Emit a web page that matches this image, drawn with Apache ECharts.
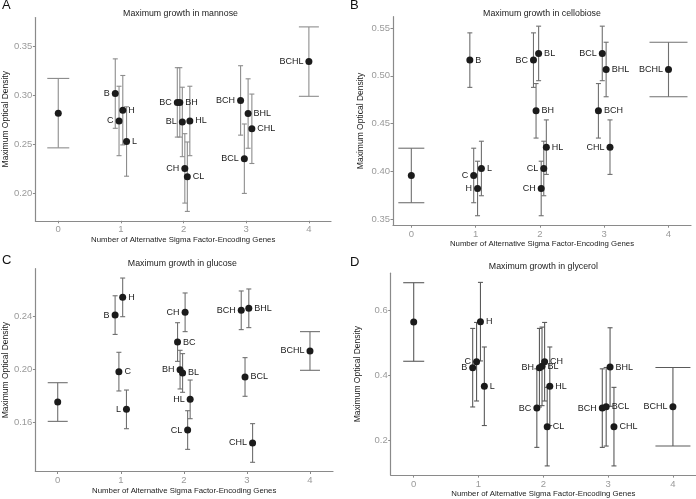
<!DOCTYPE html>
<html><head><meta charset="utf-8">
<script src="https://cdn.jsdelivr.net/npm/echarts@6/dist/echarts.min.js"></script>
<style>html,body{margin:0;padding:0;background:#fff}#c{width:696px;height:499px}</style>
</head><body><div id="c"></div>
<script>
// ---------- data ----------
const strains   = ['', 'B','C','H','L','BC','BH','BL','CH','CL','HL','BCH','BCL','BHL','CHL','BCHL'];
const geneCount = [0, 1,1,1,1, 2,2,2,2,2,2, 3,3,3,3, 4];
const xOffset   = [0, -0.09,-0.03,0.03,0.09, -0.1,-0.06,-0.02,0.02,0.06,0.1, -0.09,-0.03,0.03,0.09, 0];

const mannoseOD    = [0.282, 0.302,0.274,0.285,0.253, 0.293,0.293,0.273,0.2255,0.217,0.274, 0.295,0.2354,0.2816,0.266, 0.3347];
const mannoseErr   = 0.0355;
const cellobioseOD = [0.3958, 0.5164,0.3958,0.3822,0.4031, 0.5164,0.4634,0.5234,0.3822,0.4031,0.4254, 0.4634,0.5234,0.5066,0.4254, 0.5066];
const cellobioseErr= 0.0285;
const glucoseOD    = [0.1755, 0.2407,0.1983,0.254,0.17, 0.2205,0.1998,0.1973,0.2428,0.1545,0.1775, 0.2443,0.1943,0.2458,0.1448, 0.2138];
const glucoseErr   = 0.0145;
const glycerolOD   = [0.5653, 0.4245,0.4429,0.5663,0.3673, 0.3,0.4245,0.4286,0.4429,0.2429,0.3673, 0.3,0.3041,0.4265,0.2429, 0.3041];
const glycerolErr  = 0.121;

const titles = ['Maximum growth in mannose','Maximum growth in cellobiose','Maximum growth in glucose','Maximum growth in glycerol'];
const letters = ['A','B','C','D'];
const xTicks = [0,1,2,3,4];
const yTicksA = [0.20,0.25,0.30,0.35];
const yTicksB = [0.35,0.40,0.45,0.50,0.55];
const yTicksC = [0.16,0.20,0.24];
const yTicksD = [0.2,0.4,0.6];
const xName = 'Number of Alternative Sigma Factor-Encoding Genes';
const yName = 'Maximum Optical Density';

// ---------- layout / style ----------
const panels = [
  {od: mannoseOD, err: mannoseErr, yt: yTicksA, dec: 2, grid:{left:30, top:17.6, width:301, height:203.2}, xr:[-0.365,4.353], yr:[0.1719,0.3797], cap0:11, cap4:10, ec:'#8d8d8d', yGap:20,
   left:['B','C','BC','BL','CH','BCH','BCL','BCHL'], titleTop:9, letter:[2,-1]},
  {od: cellobioseOD, err: cellobioseErr, yt: yTicksB, dec: 2, grid:{left:393, top:16.7, width:298, height:208.5}, xr:[-0.285,4.35], yr:[0.3438,0.5618], cap0:13, cap4:19, ec:'#707070', yGap:28,
   left:['C','H','BC','CL','CH','BCL','CHL','BCHL'], titleTop:9, letter:[350,-1]},
  {od: glucoseOD, err: glucoseErr, yt: yTicksC, dec: 2, grid:{left:31.7, top:268.7, width:301.3, height:202.8}, xr:[-0.354,4.365], yr:[0.1234,0.2755], cap0:10, cap4:10, ec:'#707070', yGap:22,
   left:['B','L','CH','BH','HL','CL','BCH','CHL','BCHL'], titleTop:259, letter:[2,254]},
  {od: glycerolOD, err: glycerolErr, yt: yTicksD, dec: 1, grid:{left:390.7, top:273.2, width:305.3, height:203.2}, xr:[-0.355,4.356], yr:[0.0936,0.7156], cap0:10.5, cap4:17.5, ec:'#5a5a5a', yGap:29,
   left:['B','C','BH','BC','BCH','BCHL'], titleTop:262, letter:[350,256]}
];

const FONT = '"Liberation Sans", Arial, sans-serif';
const option = {animation:false, backgroundColor:'#fff', textStyle:{fontFamily:FONT},
  title:[], grid:[], xAxis:[], yAxis:[], series:[]};

panels.forEach((p,i)=>{
  option.grid.push(Object.assign({containLabel:false}, p.grid));
  option.title.push({text:titles[i], left:p.grid.left + p.grid.width/2, top:p.titleTop, textAlign:'center', padding:0,
    textStyle:{fontSize:8.8, fontWeight:'normal', color:'#222', fontFamily:FONT}});
  option.title.push({text:letters[i], left:p.letter[0], top:p.letter[1], padding:0,
    textStyle:{fontSize:13, fontWeight:'normal', color:'#111', fontFamily:FONT}});
  option.xAxis.push({type:'value', gridIndex:i, min:p.xr[0], max:p.xr[1], name:xName, nameLocation:'middle', nameGap:14,
    nameTextStyle:{fontSize:7.8, color:'#222', fontFamily:FONT},
    axisLine:{show:true, onZero:false, lineStyle:{color:'#8a8a8a', width:1.2}},
    axisTick:{show:true, length:2.5, customValues:xTicks, lineStyle:{color:'#8a8a8a'}},
    axisLabel:{customValues:xTicks, fontSize:9.5, color:'#9a9a9a', margin:4, fontFamily:FONT},
    splitLine:{show:false}});
  option.yAxis.push({type:'value', gridIndex:i, min:p.yr[0], max:p.yr[1], name:yName, nameLocation:'middle', nameGap:p.yGap,
    nameTextStyle:{fontSize:8.5, color:'#222', fontFamily:FONT},
    axisLine:{show:true, onZero:false, lineStyle:{color:'#8a8a8a', width:1.2}},
    axisTick:{show:true, length:2.5, customValues:p.yt, lineStyle:{color:'#8a8a8a'}},
    axisLabel:{customValues:p.yt, fontSize:9.5, color:'#9a9a9a', margin:3, fontFamily:FONT,
      formatter:v=>v.toFixed(p.dec)},
    splitLine:{show:false}});
  const pts = strains.map((s,k)=>[geneCount[k]+xOffset[k], p.od[k], p.err, geneCount[k], s]);
  option.series.push({type:'custom', xAxisIndex:i, yAxisIndex:i, data:pts, silent:true, z:1,
    renderItem:(params, api)=>{
      const x = api.value(0), y = api.value(1), e = api.value(2), g = api.value(3);
      const top = api.coord([x, y+e]), bot = api.coord([x, y-e]);
      const cw = g===0 ? p.cap0 : (g===4 ? p.cap4 : 2.5);
      const st = {stroke:p.ec, lineWidth:1.1};
      return {type:'group', children:[
        {type:'line', shape:{x1:top[0], y1:top[1], x2:bot[0], y2:bot[1]}, style:st},
        {type:'line', shape:{x1:top[0]-cw, y1:top[1], x2:top[0]+cw, y2:top[1]}, style:st},
        {type:'line', shape:{x1:bot[0]-cw, y1:bot[1], x2:bot[0]+cw, y2:bot[1]}, style:st}
      ]};
    }});
  option.series.push({type:'scatter', xAxisIndex:i, yAxisIndex:i, z:3, symbolSize:7,
    itemStyle:{color:'#1b1b1b', opacity:1},
    data: pts.map(d=>({value:[d[0],d[1]],
      label:{show:d[4]!=='', formatter:d[4], position: p.left.includes(d[4]) ? 'left':'right', distance:2,
        fontSize:9, color:'#1b1b1b', fontFamily:FONT}}))});
});

const chart = echarts.init(document.getElementById('c'), null, {renderer:'canvas'});
chart.setOption(option);
</script></body></html>
